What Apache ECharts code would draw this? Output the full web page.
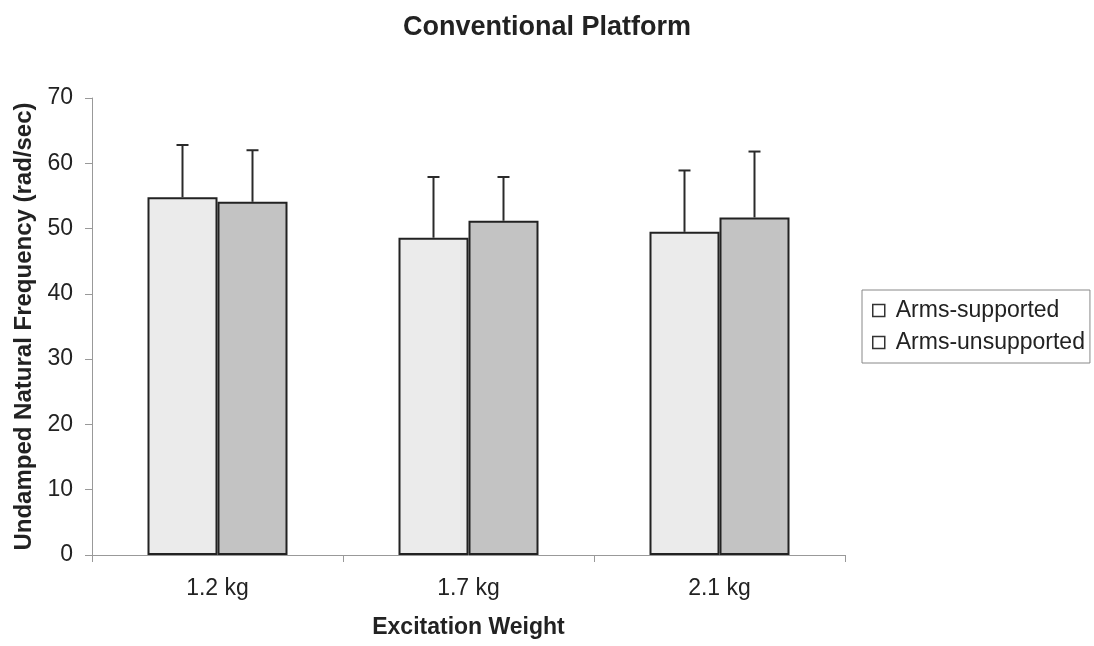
<!DOCTYPE html>
<html>
<head>
<meta charset="utf-8">
<script src="https://cdn.jsdelivr.net/npm/echarts@6/dist/echarts.min.js"></script>
<style>
html,body{margin:0;padding:0;background:#fff;}
#chart{width:1094px;height:646px;}
</style>
</head>
<body>
<div id="chart"></div>
<script>
var categories = ['1.2 kg', '1.7 kg', '2.1 kg'];
var seriesNames = ['Arms-supported', 'Arms-unsupported'];
var supported = [54.8, 48.6, 49.5];
var unsupported = [54.1, 51.2, 51.7];
var supportedErr = [8.0, 9.3, 9.4];
var unsupportedErr = [7.9, 6.7, 10.1];
var yTicks = [0, 10, 20, 30, 40, 50, 60, 70];

var FONT = '"Liberation Sans", Arial, sans-serif';
var BAR_W = 70;

function errSeries(values, errs, offset) {
  return {
    type: 'custom',
    silent: true,
    z: 5,
    data: values.map(function (v, i) { return [i, v, v + errs[i]]; }),
    renderItem: function (params, api) {
      var base = api.coord([api.value(0), api.value(1)]);
      var top = api.coord([api.value(0), api.value(2)]);
      var x = base[0] + offset;
      var cap = 6;
      var st = { stroke: '#2a2a2a', lineWidth: 2 };
      return {
        type: 'group',
        children: [
          { type: 'line', shape: { x1: x, y1: base[1], x2: x, y2: top[1] }, style: st },
          { type: 'line', shape: { x1: x - cap, y1: top[1], x2: x + cap, y2: top[1] }, style: st }
        ]
      };
    }
  };
}

var chart = echarts.init(document.getElementById('chart'));
chart.setOption({
  animation: false,
  backgroundColor: '#fff',
  title: {
    text: 'Conventional Platform',
    left: 'center',
    top: 9,
    textStyle: { fontFamily: FONT, fontSize: 27, fontWeight: 'bold', color: '#222' }
  },
  legend: {
    data: seriesNames,
    orient: 'vertical',
    left: 862,
    top: 290,
    padding: [9, 5, 9, 10],
    itemGap: 9,
    itemWidth: 12,
    itemHeight: 12,
    icon: 'rect',
    borderColor: '#888',
    borderWidth: 1,
    borderRadius: 0,
    itemStyle: { color: '#fff', borderColor: '#333', borderWidth: 1.5 },
    textStyle: { fontFamily: FONT, fontSize: 23, color: '#222', padding: [0, 0, 0, 6] }
  },
  grid: { left: 92, right: 249, top: 98, bottom: 91 },
  xAxis: {
    type: 'category',
    data: categories,
    name: 'Excitation Weight',
    nameLocation: 'middle',
    nameGap: 61,
    nameTextStyle: { fontFamily: FONT, fontSize: 23, fontWeight: 'bold', color: '#222' },
    axisLine: { lineStyle: { color: '#999', width: 1 } },
    axisTick: { show: true, length: 7, lineStyle: { color: '#999' }, alignWithLabel: false },
    axisLabel: { fontFamily: FONT, fontSize: 23, color: '#222', margin: 22 },
    splitLine: { show: false }
  },
  yAxis: {
    type: 'value',
    min: 0,
    max: 70,
    interval: 10,
    name: 'Undamped Natural Frequency (rad/sec)',
    nameLocation: 'middle',
    nameGap: 55,
    nameTextStyle: { fontFamily: FONT, fontSize: 24, fontWeight: 'bold', color: '#222' },
    axisLine: { show: true, lineStyle: { color: '#999', width: 1 } },
    axisTick: { show: true, length: 7, lineStyle: { color: '#999' } },
    axisLabel: {
      fontFamily: FONT, fontSize: 23, color: '#222', margin: 19,
      formatter: function (v) { return yTicks.indexOf(v) >= 0 ? String(v) : ''; }
    },
    splitLine: { show: false }
  },
  series: [
    {
      name: seriesNames[0],
      type: 'bar',
      data: supported,
      barWidth: BAR_W,
      barGap: '0%',
      itemStyle: { color: '#ebebeb', borderColor: '#222', borderWidth: 2 }
    },
    {
      name: seriesNames[1],
      type: 'bar',
      data: unsupported,
      barWidth: BAR_W,
      barGap: '0%',
      itemStyle: { color: '#c3c3c3', borderColor: '#222', borderWidth: 2 }
    },
    errSeries(supported, supportedErr, -BAR_W / 2),
    errSeries(unsupported, unsupportedErr, BAR_W / 2)
  ]
});
</script>
</body>
</html>
